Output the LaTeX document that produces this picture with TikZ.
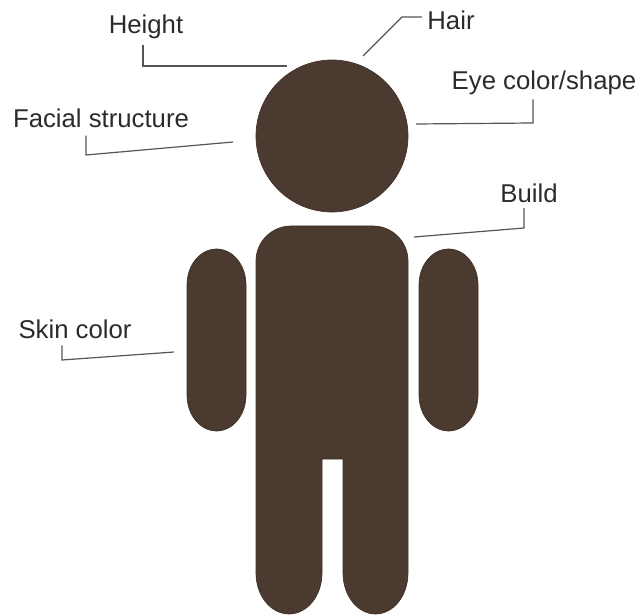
\documentclass[tikz,border=0pt]{standalone}
\usepackage{fontspec}
\setmainfont{Liberation Sans}
\definecolor{skinbrown}{HTML}{4A3A2F}
\definecolor{leadergray}{HTML}{555555}
\definecolor{labeltext}{HTML}{2B2B2B}
\tikzset{
  bodypart/.style={fill=skinbrown, draw=skinbrown!85!black, line width=0.5pt},
  leader/.style={draw=leadergray, line width=0.9pt},
  lbl/.style={font=\fontsize{19.3}{23}\selectfont, text=labeltext, inner sep=0pt}
}
\begin{document}
\begin{tikzpicture}[x=0.75pt, y=0.75pt]
  \useasboundingbox (0,0) rectangle (641,614);
  % head
  \draw[bodypart] (332,478) circle (76);
  % trunk + legs
  \draw[bodypart] (256,41) -- (256,353) arc[start angle=180, end angle=90, radius=35]
    -- (373,388) arc[start angle=90, end angle=0, radius=35]
    -- (408,41) arc[start angle=0, end angle=-180, x radius=32.5, y radius=41]
    -- (343,155) -- (322,155) -- (322,41)
    arc[start angle=0, end angle=-180, x radius=33, y radius=41] -- cycle;
  % arms
  \foreach \armx in {187,419}
    \draw[bodypart] (\armx,329) arc[start angle=180, end angle=0, x radius=29.5, y radius=36]
      -- ++(0,-110) arc[start angle=0, end angle=-180, x radius=29.5, y radius=36] -- cycle;
  % labels
  \node[lbl] (height) at (146,587) {Height};
  \node[lbl] (hair) at (451,594) {Hair};
  \node[lbl] (eye) at (544,531) {Eye color/shape};
  \node[lbl] (facial) at (101,496) {Facial structure};
  \node[lbl] (build) at (529,421) {Build};
  \node[lbl] (skin) at (75,285) {Skin color};
  % leader bends and free ends
  \coordinate (heightbend) at (143,548);
  \coordinate (heightend) at (287,548);
  \coordinate (hairbend) at (402,597);
  \coordinate (hairend) at (363,558);
  \coordinate (eyebend) at (533,491);
  \coordinate (eyeend) at (416,490);
  \coordinate (facialbend) at (86,459);
  \coordinate (facialend) at (233,472);
  \coordinate (buildbend) at (524,386);
  \coordinate (buildend) at (414,377);
  \coordinate (skinbend) at (62,254);
  \coordinate (skinend) at (174,262);
  % leaders
  \draw[leader, shorten <=4pt] (heightbend |- height.south) -- (heightbend) -- (heightend);
  \draw[leader, shorten <=4pt] (hair.west |- hairbend) -- (hairbend) -- (hairend);
  \draw[leader, shorten <=3pt] (eyebend |- eye.south) -- (eyebend) -- (eyeend);
  \draw[leader, shorten <=6pt] (facialbend |- facial.south) -- (facialbend) -- (facialend);
  \draw[leader, shorten <=4pt] (buildbend |- build.south) -- (buildbend) -- (buildend);
  \draw[leader, shorten <=5pt] (skinbend |- skin.south) -- (skinbend) -- (skinend);
\end{tikzpicture}
\end{document}
